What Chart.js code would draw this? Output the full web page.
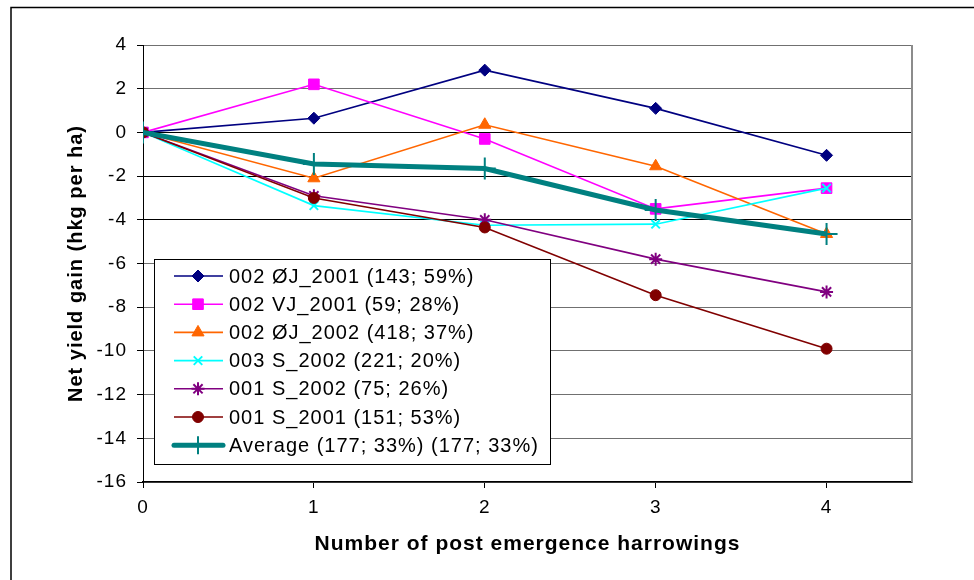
<!DOCTYPE html>
<html>
<head>
<meta charset="utf-8">
<script src="https://cdn.jsdelivr.net/npm/chart.js@4/dist/chart.umd.min.js"></script>
<style>
  html, body { margin: 0; padding: 0; background: #fff; }
  #wrap { width: 974px; height: 580px; }
</style>
</head>
<body>
<div id="wrap"><canvas id="myChart" width="974" height="580"></canvas></div>
<script>
// values
var harrowings = [0, 1, 2, 3, 4];
var yTicks = [4, 2, 0, -2, -4, -6, -8, -10, -12, -14, -16];

var seriesNames = [
    "002 ØJ_2001 (143; 59%)",
    "002 VJ_2001 (59; 28%)",
    "002 ØJ_2002 (418; 37%)",
    "003 S_2002 (221; 20%)",
    "001 S_2002 (75; 26%)",
    "001 S_2001 (151; 53%)",
    "Average (177; 33%) (177; 33%)"
];
var oj2001 = [0, 0.65, 2.85, 1.1, -1.05];
var vj2001 = [0, 2.2, -0.3, -3.5, -2.55];
var oj2002 = [0, -2.1, 0.35, -1.55, -4.65];
var s003_2002 = [0, -3.35, -4.25, -4.2, -2.55];
var s001_2002 = [0, -2.9, -4.0, -5.8, -7.3];
var s001_2001 = [0, -3.0, -4.35, -7.45, -9.9];
var average = [0, -1.45, -1.65, -3.55, -4.65];

var seriesValues = [oj2001, vj2001, oj2002, s003_2002, s001_2002, s001_2001, average];
var seriesColors = ["#000080", "#FF00FF", "#FF6600", "#00FFFF", "#800080", "#800000", "#008080"];
var seriesMarkers = ["rectRot", "rect", "triangle", "crossRot", "star", "circle", "cross"];
var markerSizes = [6, 7.5, 7, 6, 6.5, 5.5, 11];
var lineWidths = [1.6, 1.6, 1.6, 1.6, 1.6, 1.6, 5];

var FONT = "'Liberation Sans', Arial, sans-serif";

function toPoints(vals){
    var pts = [];
    for(var i=0; i<harrowings.length; i++){
        pts.push({x: harrowings[i], y: vals[i]});
    }
    return pts;
}

var datasets = [];
for(var i=0; i<seriesNames.length; i++){
    var filled = (seriesMarkers[i] != "crossRot" && seriesMarkers[i] != "star" && seriesMarkers[i] != "cross");
    datasets.push({
        label: seriesNames[i],
        data: toPoints(seriesValues[i]),
        borderColor: seriesColors[i],
        backgroundColor: seriesColors[i],
        borderWidth: lineWidths[i],
        pointStyle: seriesMarkers[i],
        pointRadius: markerSizes[i],
        pointHoverRadius: markerSizes[i],
        pointBorderWidth: filled ? 1 : 2,
        pointBackgroundColor: seriesColors[i],
        pointBorderColor: seriesColors[i],
        tension: 0,
        order: seriesNames.length - i
    });
}

// frame round the whole chart, wider text like the original
var framePlugin = {
    id: 'frame',
    beforeDraw: function(chart){
        var ctx = chart.ctx;
        ctx.letterSpacing = "1px";
        ctx.save();
        ctx.fillStyle = "#fff";
        ctx.fillRect(0, 0, chart.width, chart.height);
        ctx.strokeStyle = "#000";
        ctx.lineWidth = 1.5;
        ctx.strokeRect(11, 7.5, 1200, 1200);
        ctx.restore();
    },
    afterDraw: function(chart){
        var a = chart.chartArea, ctx = chart.ctx;
        ctx.save();
        ctx.strokeStyle = "#8c8c8c";
        ctx.lineWidth = 2;
        ctx.beginPath();
        ctx.moveTo(a.right, a.top);
        ctx.lineTo(a.right, a.bottom);
        ctx.stroke();
        ctx.restore();
    }
};

// legend box drawn inside the plot
var boxLegend = {
    id: 'boxLegend',
    afterDraw: function(chart){
        var ctx = chart.ctx;
        var left = 154, top = 259, right = 550, bottom = 464;
        ctx.save();
        ctx.fillStyle = "#fff";
        ctx.fillRect(left, top, right-left, bottom-top);
        ctx.strokeStyle = "#000";
        ctx.lineWidth = 1;
        ctx.strokeRect(left+0.5, top+0.5, right-left, bottom-top);
        var dsets = chart.data.datasets;
        for(var i=0; i<dsets.length; i++){
            var ds = dsets[i];
            var y = 276 + i*28.2;
            ctx.strokeStyle = ds.borderColor;
            ctx.lineWidth = ds.borderWidth;
            ctx.lineCap = (i == dsets.length-1) ? "round" : "butt";
            ctx.beginPath();
            ctx.moveTo(174, y);
            ctx.lineTo(223, y);
            ctx.stroke();
            ctx.fillStyle = ds.pointBackgroundColor;
            ctx.strokeStyle = ds.pointBorderColor;
            ctx.lineWidth = ds.pointBorderWidth;
            ctx.lineCap = "butt";
            Chart.helpers.drawPoint(ctx, {
                pointStyle: ds.pointStyle,
                radius: (i == dsets.length-1) ? 9 : ds.pointRadius,
                rotation: 0,
                borderWidth: ds.pointBorderWidth
            }, 198, y);
            ctx.fillStyle = "#000";
            ctx.font = "20px " + FONT;
            ctx.textBaseline = "middle";
            ctx.textAlign = "left";
            ctx.fillText(ds.label, 229, y + 1);
        }
        ctx.restore();
    }
};

var ctx = document.getElementById('myChart').getContext('2d');
var myChart = new Chart(ctx, {
    type: 'line',
    data: { datasets: datasets },
    plugins: [framePlugin, boxLegend],
    options: {
        responsive: false,
        animation: false,
        layout: { padding: { top: 45, right: 62, bottom: 0, left: 0 } },
        plugins: {
            legend: { display: false },
            tooltip: { enabled: false },
            title: { display: false }
        },
        scales: {
            x: {
                type: 'linear',
                min: 0,
                max: 4.5,
                afterFit: function(scale){ scale.height = 98; },
                afterBuildTicks: function(scale){
                    scale.ticks = harrowings.map(function(v){ return {value: v}; });
                },
                ticks: {
                    color: "#000",
                    padding: 8,
                    font: { family: FONT, size: 19 }
                },
                grid: { drawOnChartArea: false, color: "#000", tickLength: 6 },
                border: { color: "#000", width: 1.5 },
                title: {
                    display: true,
                    text: "Number of post emergence harrowings",
                    color: "#000",
                    font: { family: FONT, size: 21, weight: 'bold' },
                    padding: { top: 0, bottom: 23 }
                }
            },
            y: {
                min: -16,
                max: 4,
                afterFit: function(scale){ scale.width = 143; },
                afterBuildTicks: function(scale){
                    scale.ticks = yTicks.map(function(v){ return {value: v}; });
                },
                ticks: {
                    color: "#000",
                    padding: 10,
                    font: { family: FONT, size: 19 }
                },
                grid: {
                    color: function(c){
                        var v = c.tick ? c.tick.value : 0;
                        return (v == 0 || v == -2 || v == -4) ? "#000" : "#707070";
                    },
                    lineWidth: 1,
                    tickLength: 6,
                    tickColor: "#000"
                },
                border: { color: "#000", width: 1 },
                title: {
                    display: true,
                    text: "Net yield gain (hkg per ha)",
                    color: "#000",
                    font: { family: FONT, size: 20, weight: 'bold' },
                    padding: { top: 64, bottom: 0 }
                }
            }
        }
    }
});
</script>
</body>
</html>
